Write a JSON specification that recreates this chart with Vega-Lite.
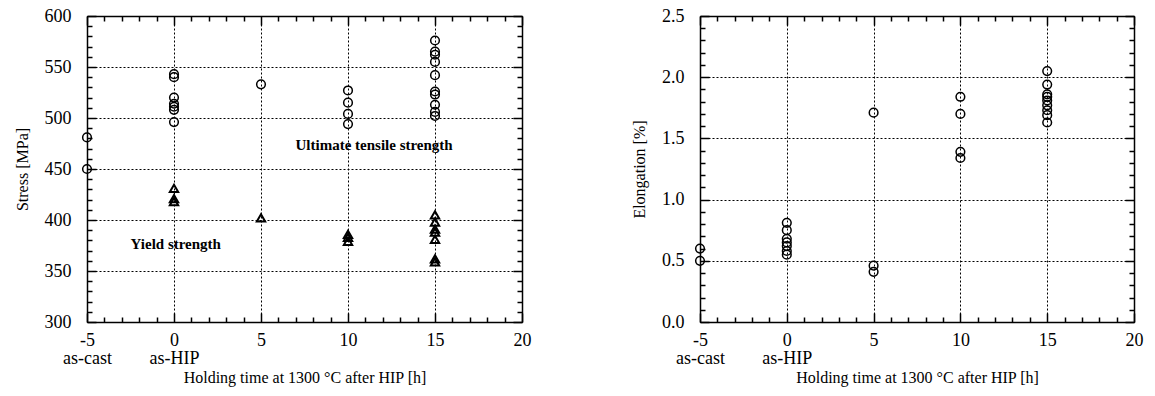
{
  "$schema": "https://vega.github.io/schema/vega-lite/v6.json",
  "background": "white",
  "padding": {"left": 14, "top": 7, "right": 5, "bottom": 5},
  "config": {
    "view": {"stroke": null},
    "font": "Liberation Serif",
    "concat": {"spacing": 100},
    "style": {
      "guide-label": {"font": "Liberation Serif", "fontSize": 18, "fill": "black"},
      "guide-title": {"font": "Liberation Serif", "fontSize": 16, "fill": "black", "fontWeight": "normal"}
    },
    "axis": {
      "domainColor": "black", "domainWidth": 1.5,
      "tickColor": "black", "tickWidth": 1.5,
      "labelColor": "black", "titleColor": "black",
      "labelFont": "Liberation Serif", "titleFont": "Liberation Serif",
      "labelFontSize": 18, "titleFontSize": 16, "titleFontWeight": "normal",
      "gridColor": "black", "gridDash": [2, 2], "gridWidth": 1,
      "labelOverlap": false, "labelFlush": false
    }
  },
  "datasets": {
    "stress": [
      {"h": -5, "stress": 481, "kind": "UTS"}, {"h": -5, "stress": 450, "kind": "UTS"},
      {"h": 0, "stress": 543, "kind": "UTS"}, {"h": 0, "stress": 540, "kind": "UTS"}, {"h": 0, "stress": 520, "kind": "UTS"}, {"h": 0, "stress": 514, "kind": "UTS"}, {"h": 0, "stress": 511, "kind": "UTS"}, {"h": 0, "stress": 508, "kind": "UTS"}, {"h": 0, "stress": 496, "kind": "UTS"},
      {"h": 5, "stress": 533, "kind": "UTS"},
      {"h": 10, "stress": 527, "kind": "UTS"}, {"h": 10, "stress": 515, "kind": "UTS"}, {"h": 10, "stress": 504, "kind": "UTS"}, {"h": 10, "stress": 494, "kind": "UTS"},
      {"h": 15, "stress": 576, "kind": "UTS"}, {"h": 15, "stress": 565, "kind": "UTS"}, {"h": 15, "stress": 562, "kind": "UTS"}, {"h": 15, "stress": 555, "kind": "UTS"}, {"h": 15, "stress": 542, "kind": "UTS"}, {"h": 15, "stress": 526, "kind": "UTS"}, {"h": 15, "stress": 523, "kind": "UTS"}, {"h": 15, "stress": 513, "kind": "UTS"}, {"h": 15, "stress": 506, "kind": "UTS"}, {"h": 15, "stress": 502, "kind": "UTS"},
      {"h": 0, "stress": 431, "kind": "YS"}, {"h": 0, "stress": 421, "kind": "YS"}, {"h": 0, "stress": 418, "kind": "YS"},
      {"h": 5, "stress": 402, "kind": "YS"},
      {"h": 10, "stress": 386, "kind": "YS"}, {"h": 10, "stress": 383, "kind": "YS"}, {"h": 10, "stress": 379, "kind": "YS"},
      {"h": 15, "stress": 405, "kind": "YS"}, {"h": 15, "stress": 398, "kind": "YS"}, {"h": 15, "stress": 391, "kind": "YS"}, {"h": 15, "stress": 388, "kind": "YS"}, {"h": 15, "stress": 381, "kind": "YS"}, {"h": 15, "stress": 362, "kind": "YS"}, {"h": 15, "stress": 359, "kind": "YS"}
    ],
    "labelsL": [
      {"h": 11.5, "stress": 474, "text": "Ultimate tensile strength"},
      {"h": 0.1, "stress": 376, "text": "Yield strength"}
    ],
    "elong": [
      {"h": -5, "elong": 0.60}, {"h": -5, "elong": 0.50},
      {"h": 0, "elong": 0.81}, {"h": 0, "elong": 0.75}, {"h": 0, "elong": 0.68}, {"h": 0, "elong": 0.65}, {"h": 0, "elong": 0.62}, {"h": 0, "elong": 0.58}, {"h": 0, "elong": 0.55},
      {"h": 5, "elong": 1.71}, {"h": 5, "elong": 0.46}, {"h": 5, "elong": 0.41},
      {"h": 10, "elong": 1.84}, {"h": 10, "elong": 1.70}, {"h": 10, "elong": 1.39}, {"h": 10, "elong": 1.34},
      {"h": 15, "elong": 2.05}, {"h": 15, "elong": 1.94}, {"h": 15, "elong": 1.86}, {"h": 15, "elong": 1.84}, {"h": 15, "elong": 1.81}, {"h": 15, "elong": 1.77}, {"h": 15, "elong": 1.73}, {"h": 15, "elong": 1.69}, {"h": 15, "elong": 1.63}
    ]
  },
  "hconcat": [
    {
      "width": 435, "height": 306,
      "resolve": {"axis": {"x": "independent", "y": "independent"}},
      "layer": [
        {
          "data": {"name": "stress"},
          "transform": [{"filter": "datum.kind === 'UTS'"}],
          "mark": {"type": "point", "shape": "circle", "filled": false, "color": "black", "strokeWidth": 1.5, "size": 75, "opacity": 1},
          "encoding": {
            "x": {"field": "h", "type": "quantitative", "scale": {"domain": [-5, 20], "nice": false, "zero": false},
              "axis": {"orient": "bottom", "values": [-5,-4,-3,-2,-1,0,1,2,3,4,5,6,7,8,9,10,11,12,13,14,15,16,17,18,19,20],
                "labelExpr": "datum.value === -5 ? ['-5', 'as-cast'] : datum.value === 0 ? ['0', 'as-HIP'] : (datum.value % 5 === 0 ? datum.label : '')",
                "labelFont": "Liberation Serif", "labelFontSize": 18,
                "tickSize": {"condition": {"test": "datum.value % 5 === 0", "value": -9}, "value": -5},
                "grid": true,
                "gridOpacity": {"condition": {"test": "datum.value % 5 === 0", "value": 1}, "value": 0},
                "labelPadding": 18, "labelLineHeight": 18,
                "title": "Holding time at 1300 °C after HIP  [h]", "titleFont": "Liberation Serif", "titleFontSize": 16, "titlePadding": 2}},
            "y": {"field": "stress", "type": "quantitative", "scale": {"domain": [300, 600], "nice": false, "zero": false},
              "axis": {"orient": "left", "values": [300,310,320,330,340,350,360,370,380,390,400,410,420,430,440,450,460,470,480,490,500,510,520,530,540,550,560,570,580,590,600],
                "labelExpr": "datum.value % 50 === 0 ? datum.label : ''",
                "labelFont": "Liberation Serif", "labelFontSize": 18,
                "tickSize": {"condition": {"test": "datum.value % 50 === 0", "value": -9}, "value": -5},
                "grid": true,
                "gridOpacity": {"condition": {"test": "datum.value % 50 === 0", "value": 1}, "value": 0},
                "labelPadding": 25,
                "title": "Stress  [MPa]", "titleFont": "Liberation Serif", "titleFontSize": 16, "titlePadding": 14}}
          }
        },
        {
          "data": {"name": "stress"},
          "transform": [{"filter": "datum.kind === 'YS'"}],
          "mark": {"type": "point", "shape": "triangle-up", "filled": false, "color": "black", "strokeWidth": 2, "size": 70, "opacity": 1},
          "encoding": {
            "x": {"field": "h", "type": "quantitative", "scale": {"domain": [-5, 20], "nice": false, "zero": false},
              "axis": {"orient": "top", "values": [-5,-4,-3,-2,-1,0,1,2,3,4,5,6,7,8,9,10,11,12,13,14,15,16,17,18,19,20],
                "labels": false, "grid": false, "title": null, "minExtent": 0, "maxExtent": 0,
                "tickSize": {"condition": {"test": "datum.value % 5 === 0", "value": -9}, "value": -5}}},
            "y": {"field": "stress", "type": "quantitative", "scale": {"domain": [300, 600], "nice": false, "zero": false},
              "axis": {"orient": "right", "values": [300,310,320,330,340,350,360,370,380,390,400,410,420,430,440,450,460,470,480,490,500,510,520,530,540,550,560,570,580,590,600],
                "labels": false, "grid": false, "title": null, "minExtent": 0, "maxExtent": 0,
                "tickSize": {"condition": {"test": "datum.value % 50 === 0", "value": -9}, "value": -5}}}
          }
        },
        {
          "data": {"name": "labelsL"},
          "mark": {"type": "text", "font": "Liberation Serif", "fontSize": 15, "fontWeight": "bold", "color": "black"},
          "encoding": {
            "x": {"field": "h", "type": "quantitative", "axis": null},
            "y": {"field": "stress", "type": "quantitative", "axis": null},
            "text": {"field": "text"}
          }
        }
      ]
    },
    {
      "width": 434, "height": 306,
      "resolve": {"axis": {"x": "independent", "y": "independent"}},
      "layer": [
        {
          "data": {"name": "elong"},
          "mark": {"type": "point", "shape": "circle", "filled": false, "color": "black", "strokeWidth": 1.5, "size": 75, "opacity": 1},
          "encoding": {
            "x": {"field": "h", "type": "quantitative", "scale": {"domain": [-5, 20], "nice": false, "zero": false},
              "axis": {"orient": "bottom", "values": [-5,-4,-3,-2,-1,0,1,2,3,4,5,6,7,8,9,10,11,12,13,14,15,16,17,18,19,20],
                "labelExpr": "datum.value === -5 ? ['-5', 'as-cast'] : datum.value === 0 ? ['0', 'as-HIP'] : (datum.value % 5 === 0 ? datum.label : '')",
                "labelFont": "Liberation Serif", "labelFontSize": 18,
                "tickSize": {"condition": {"test": "datum.value % 5 === 0", "value": -9}, "value": -5},
                "grid": true,
                "gridOpacity": {"condition": {"test": "datum.value % 5 === 0", "value": 1}, "value": 0},
                "labelPadding": 18, "labelLineHeight": 18,
                "title": "Holding time at 1300 °C after HIP  [h]", "titleFont": "Liberation Serif", "titleFontSize": 16, "titlePadding": 2}},
            "y": {"field": "elong", "type": "quantitative", "scale": {"domain": [0, 2.5], "nice": false},
              "axis": {"orient": "left", "values": [0,0.1,0.2,0.3,0.4,0.5,0.6,0.7,0.8,0.9,1,1.1,1.2,1.3,1.4,1.5,1.6,1.7,1.8,1.9,2,2.1,2.2,2.3,2.4,2.5],
                "labelExpr": "abs(datum.value * 2 - round(datum.value * 2)) < 0.001 ? format(datum.value, '.1f') : ''",
                "labelFont": "Liberation Serif", "labelFontSize": 18,
                "tickSize": {"condition": {"test": "abs(datum.value * 2 - round(datum.value * 2)) < 0.001", "value": -9}, "value": -5},
                "grid": true,
                "gridOpacity": {"condition": {"test": "abs(datum.value * 2 - round(datum.value * 2)) < 0.001", "value": 1}, "value": 0},
                "labelPadding": 25,
                "title": "Elongation  [%]", "titleFont": "Liberation Serif", "titleFontSize": 16, "titlePadding": 14}}
          }
        },
        {
          "data": {"name": "elong"},
          "mark": {"type": "point", "shape": "circle", "filled": false, "color": "black", "strokeWidth": 1.5, "size": 75, "opacity": 0},
          "encoding": {
            "x": {"field": "h", "type": "quantitative", "scale": {"domain": [-5, 20], "nice": false, "zero": false},
              "axis": {"orient": "top", "values": [-5,-4,-3,-2,-1,0,1,2,3,4,5,6,7,8,9,10,11,12,13,14,15,16,17,18,19,20],
                "labels": false, "grid": false, "title": null, "minExtent": 0, "maxExtent": 0,
                "tickSize": {"condition": {"test": "datum.value % 5 === 0", "value": -9}, "value": -5}}},
            "y": {"field": "elong", "type": "quantitative", "scale": {"domain": [0, 2.5], "nice": false},
              "axis": {"orient": "right", "values": [0,0.1,0.2,0.3,0.4,0.5,0.6,0.7,0.8,0.9,1,1.1,1.2,1.3,1.4,1.5,1.6,1.7,1.8,1.9,2,2.1,2.2,2.3,2.4,2.5],
                "labels": false, "grid": false, "title": null, "minExtent": 0, "maxExtent": 0,
                "tickSize": {"condition": {"test": "abs(datum.value * 2 - round(datum.value * 2)) < 0.001", "value": -9}, "value": -5}}}
          }
        }
      ]
    }
  ]
}
